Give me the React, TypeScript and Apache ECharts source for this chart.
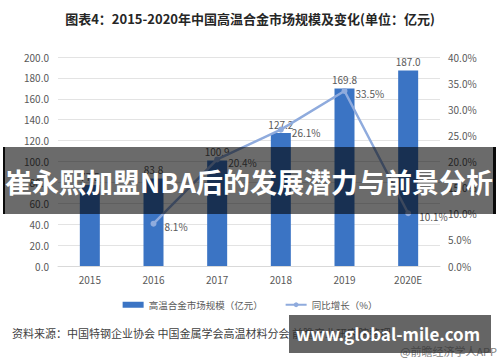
import React, { useEffect, useRef } from "react";
import * as echarts from "echarts";

const categories = ["2015", "2016", "2017", "2018", "2019", "2020E"];
const marketSize = [77.5, 83.8, 100.9, 127.2, 169.8, 187.0];
const growth = [null, 8.1, 20.4, 26.1, 33.5, 10.1];
const titleText = "图表4：2015-2020年中国高温合金市场规模及变化(单位：亿元)";
const barName = "高温合金市场规模（亿元）";
const lineName = "同比增长（%）";
const sourceText = "资料来源：中国特钢企业协会 中国金属学会高温材料分会 前瞻产业研究院整理";
const appText = "@前瞻经济学人APP";
const bannerText = "崔永熙加盟NBA后的发展潜力与前景分析";
const siteText = "www.global-mile.com";

const FONT = "'Noto Sans CJK SC', 'Noto Sans', sans-serif";

export default function App() {
  const ref = useRef<HTMLDivElement>(null);
  useEffect(() => {
    document.body.style.margin = "0";
    const chart = echarts.init(ref.current!, null, { renderer: "svg" });
    chart.setOption({
      animation: false,
      backgroundColor: "#ffffff",
      textStyle: { fontFamily: FONT },
      title: {
        text: titleText,
        left: "center",
        top: 7,
        textStyle: { fontSize: 13, fontWeight: "bold", color: "#262626", fontFamily: FONT },
      },
      grid: { left: 58, right: 60, top: 57, bottom: 96 },
      legend: {
        left: "center",
        top: 295,
        itemGap: 22,
        itemWidth: 21,
        itemHeight: 6,
        textStyle: { fontSize: 9.5, color: "#595959", fontFamily: FONT },
        data: [
          { name: barName, icon: "rect" },
          { name: lineName },
        ],
      },
      xAxis: {
        type: "category",
        data: categories,
        axisLine: { lineStyle: { color: "#d9d9d9" } },
        axisTick: { show: false },
        axisLabel: { color: "#595959", fontSize: 10, margin: 8 },
      },
      yAxis: [
        {
          type: "value",
          min: 0,
          max: 200,
          interval: 20,
          axisLine: { show: false },
          axisTick: { show: false },
          splitLine: { lineStyle: { color: "#e3e3e3" } },
          axisLabel: {
            color: "#595959",
            fontSize: 10,
            margin: 9,
            formatter: (v: number) => v.toFixed(1),
          },
        },
        {
          type: "value",
          min: 0,
          max: 40,
          interval: 5,
          axisLine: { show: false },
          axisTick: { show: false },
          splitLine: { show: false },
          axisLabel: {
            color: "#595959",
            fontSize: 10,
            margin: 8,
            formatter: (v: number) => v.toFixed(1) + "%",
          },
        },
      ],
      series: [
        {
          name: barName,
          type: "bar",
          data: marketSize,
          barWidth: 20,
          itemStyle: { color: "#3b74c4" },
          label: {
            show: true,
            position: "top",
            distance: 4,
            color: "#595959",
            fontSize: 10,
            formatter: (p: any) => Number(p.value).toFixed(1),
          },
        },
        {
          name: lineName,
          type: "line",
          yAxisIndex: 1,
          data: growth,
          connectNulls: false,
          symbol: "circle",
          symbolSize: 6,
          lineStyle: { color: "#8fabdd", width: 2.5 },
          itemStyle: { color: "#8fabdd" },
          label: {
            show: true,
            position: "right",
            distance: 8,
            offset: [0, 3],
            color: "#595959",
            fontSize: 10,
            formatter: (p: any) => Number(p.value).toFixed(1) + "%",
          },
          z: 3,
        },
      ],
      graphic: [
        {
          type: "text",
          left: 12,
          top: 327,
          z: 10,
          style: { text: sourceText, fontSize: 11, fill: "#404040", fontFamily: FONT },
        },
        {
          type: "text",
          left: 400,
          top: 345,
          z: 10,
          style: { text: appText, fontSize: 11, fill: "#7f7f7f", fontFamily: FONT },
        },
        {
          type: "rect",
          shape: { x: 3, y: 147, width: 493, height: 67 },
          z: 100,
          style: { fill: "rgba(0,0,0,0.58)" },
        },
        {
          type: "rect",
          shape: { x: 3, y: 147, width: 2, height: 67 },
          z: 101,
          style: { fill: "rgba(0,0,0,0.9)" },
        },
        {
          type: "rect",
          shape: { x: 493, y: 147, width: 3, height: 67 },
          z: 101,
          style: { fill: "rgba(0,0,0,0.9)" },
        },
        {
          type: "text",
          x: 249,
          y: 181,
          z: 102,
          style: {
            text: bannerText,
            fontSize: 27,
            fontWeight: "bold",
            fill: "#ffffff",
            align: "center",
            verticalAlign: "middle",
            fontFamily: FONT,
          },
        },
        {
          type: "rect",
          shape: { x: 289, y: 315, width: 202, height: 38 },
          z: 100,
          style: { fill: "rgba(50,50,50,0.75)" },
        },
        {
          type: "text",
          x: 388,
          y: 333,
          z: 102,
          style: {
            text: siteText,
            fontSize: 17,
            fontWeight: "bold",
            fill: "#ffffff",
            align: "center",
            verticalAlign: "middle",
            fontFamily: FONT,
          },
        },
      ],
    });
    return () => chart.dispose();
  }, []);
  return (
    <div
      ref={ref}
      style={{ position: "fixed", left: 0, top: 0, width: 500, height: 362 }}
    />
  );
}
